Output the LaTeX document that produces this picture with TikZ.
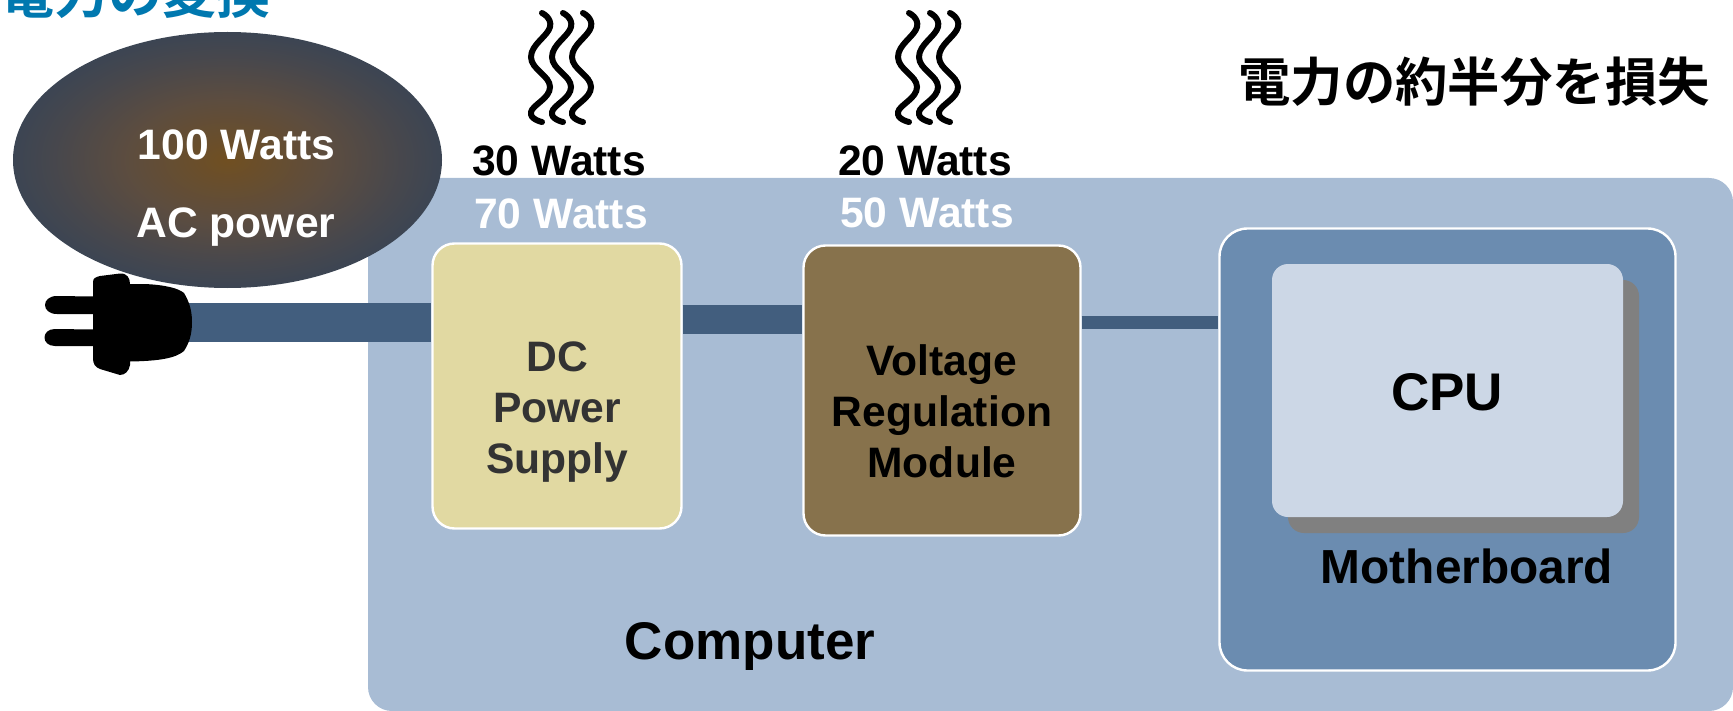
\documentclass[tikz,border=0pt]{standalone}
\usepackage{fontspec}
\setmainfont{Liberation Sans}
\newfontfamily\jpfont{Noto Sans CJK JP}[BoldFont={Noto Sans CJK JP Bold}]
\usetikzlibrary{positioning,shapes.geometric}
\definecolor{pwpanel}{RGB}{168,188,212}
\definecolor{pwboard}{RGB}{107,140,176}
\definecolor{pwcpu}{RGB}{204,215,230}
\definecolor{pwdc}{RGB}{225,217,162}
\definecolor{pwvrm}{RGB}{135,114,76}
\definecolor{pwwire}{RGB}{66,94,126}
\definecolor{pwtitle}{RGB}{0,120,175}
\definecolor{pwdark}{RGB}{51,51,51}
\pgfdeclareradialshading{acglow}{\pgfpointorigin}{rgb(0bp)=(.44,.31,.13); rgb(12bp)=(.36,.30,.25); rgb(20bp)=(.28,.28,.30); rgb(25bp)=(.235,.27,.325); rgb(100bp)=(.235,.27,.325)}
\tikzset{
  sizeA/.style={font=\fontsize{21.3}{25.5}\selectfont\bfseries},
  boxtext/.style={sizeA,align=center},
  whitebox/.style={draw=white,line width=1.2pt,rounded corners=11pt},
  wire/.style={draw=pwwire},
}
\begin{document}
\begin{tikzpicture}[x=0.5pt,y=-0.5pt,every node/.style={inner sep=0pt}]
    \useasboundingbox (0,0) rectangle (1733,711);
    \node[fill=pwpanel,rounded corners=12pt,minimum width=682.5pt,minimum height=266.5pt] (computer) at (1050.5,444.5) {};
    \coordinate (plugend) at (170,322.5);
    \coordinate (wiretwo) at (683,319.5);
    \coordinate (wirethree) at (1082,322.5);
    \node[whitebox,fill=pwdc,minimum width=124.5pt,minimum height=142.5pt] (dcbox) at (557,386) {};
    \node[whitebox,fill=pwvrm,minimum width=138.5pt,minimum height=145pt] (vrbox) at (942,390.5) {};
    \node[whitebox,fill=pwboard,rounded corners=14pt,minimum width=228pt,minimum height=221pt] (board) at (1447.5,449.5) {};
    \node[fill=black!50,rounded corners=8pt,minimum width=175.5pt,minimum height=126.5pt] (cpushadow) at (1463.5,406.5) {};
    \node[fill=pwcpu,rounded corners=8pt,minimum width=175.5pt,minimum height=126.5pt] (cpu) at (1447.5,390.5) {};
    \draw[wire,line width=19.5pt] (plugend) -- (plugend -| dcbox.west);
    \draw[wire,line width=14.5pt] (wiretwo -| dcbox.east) -- (wiretwo -| vrbox.west);
    \draw[wire,line width=6.5pt] (wirethree -| vrbox.east) -- (wirethree -| board.west);
    % source
    \node[ellipse,shading=acglow,minimum width=214.5pt,minimum height=128pt] (source) at (227.5,160) {};
    \fill[black] (93,282) .. controls (93,278) and (96,277) .. (100,276) -- (120,273.5) .. controls (127,273) and (130,278) .. (130,284)
      -- (145,284) .. controls (165,285) and (178,288) .. (184,293) .. controls (190,303) and (192,312) .. (192,322)
      .. controls (192,335) and (189,343) .. (184,351) .. controls (176,358) and (160,361) .. (130,361.5)
      -- (130,365) .. controls (129,371) and (125,375) .. (120,375) -- (100,369) .. controls (95,367) and (93,364) .. (93,358)
      -- (93,346) -- (55,346) .. controls (41,346) and (41,329) .. (55,329) -- (93,329.5)
      -- (93,314) -- (57,314) .. controls (41,314) and (41,296) .. (57,296) -- (93,296.5) -- cycle;
    \node[boxtext,white] (acwatts) at (236.5,145) {100 Watts};
    \node[boxtext,white] (aclabel) at (236,227) {AC power};
    % heat
    \foreach \hx in {0,367}{
      \foreach \dx in {0,21,41}{
        \draw[black,line width=3pt,line cap=round] plot[smooth,tension=0.75] coordinates {({\hx+\dx+542},13) ({\hx+\dx+550},27) ({\hx+\dx+531},57) ({\hx+\dx+550},87) ({\hx+\dx+531},112) ({\hx+\dx+542},122)};
      }
    }
    \node[boxtext] (heatone) at (559,161) {30 Watts};
    \node[boxtext,white] (passone) at (561,214) {70 Watts};
    \node[boxtext] (heattwo) at (925,161) {20 Watts};
    \node[boxtext,white] (passtwo) at (927,213) {50 Watts};
    \node[boxtext,text=pwdark] (dclabel) at (557,412) {DC\\Power\\Supply};
    \node[boxtext] (vrlabel) at (942,411) {Voltage\\Regulation\\Module};
    \node[font=\fontsize{26.5}{31}\selectfont\bfseries] (cpulabel) at (1447,392) {CPU};
    \node[font=\fontsize{23.9}{28}\selectfont\bfseries] (boardlabel) at (1467,566) {Motherboard};
    \node[font=\fontsize{26.5}{32}\selectfont\bfseries] (computerlabel) at (750,646) {Computer};
    \node[font=\jpfont\fontsize{26.2}{32}\selectfont\bfseries] (losslabel) at (1474,82) {電力の約半分を損失};
    \node[font=\jpfont\fontsize{27}{33}\selectfont\bfseries,text=pwtitle] (title) at (135,-7) {電力の変換};
  \end{tikzpicture}
\end{document}
